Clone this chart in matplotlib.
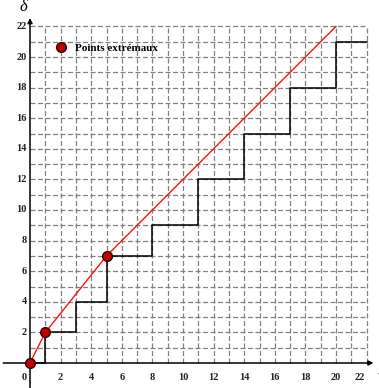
import matplotlib.pyplot as plt
from matplotlib.lines import Line2D

# Extreme points and the upper envelope through them
extreme_x = [0, 1, 5]
extreme_y = [0, 2, 7]
envelope_x = [0, 1, 5, 20]
envelope_y = [0, 2, 7, 22]

# Staircase: jump positions and the level held after each jump
stair_x = [0, 1, 3, 5, 8, 11, 14, 17, 20, 22]
stair_y = [0, 2, 4, 7, 9, 12, 15, 18, 21, 21]

ticks = [2, 4, 6, 8, 10, 12, 14, 16, 18, 20, 22]
grid_max = 22

plt.rcParams['font.family'] = ['Liberation Serif', 'DejaVu Serif']

fig = plt.figure(figsize=(3.79, 3.88), dpi=100)
ax = fig.add_axes([0, 0, 1, 1])
unit = 15.3
ax.set_xlim(-30 / unit, (379 - 30) / unit)
ax.set_ylim(-(388 - 363) / unit, 363 / unit)
ax.axis('off')

# dashed grid, one line per unit
grid_kw = dict(color='#808080', linewidth=0.9, linestyles=(0, (4, 2)), zorder=1)
ax.hlines(range(1, grid_max + 1), 0, grid_max, **grid_kw)
ax.vlines(range(1, grid_max + 1), 0, grid_max, **grid_kw)

# axes with arrows
ax.annotate('', xy=(22.45, 0), xytext=(-1.75, 0),
            arrowprops=dict(arrowstyle='-|>', color='black', lw=1.1,
                            mutation_scale=7, shrinkA=0, shrinkB=0), zorder=3)
ax.annotate('', xy=(0, 22.55), xytext=(0, -1.7),
            arrowprops=dict(arrowstyle='-|>', color='black', lw=1.1,
                            mutation_scale=7, shrinkA=0, shrinkB=0), zorder=3)

ax.step(stair_x, stair_y, where='post', color='black', linewidth=1.1, zorder=4)
ax.plot(envelope_x, envelope_y, color='#ff1010', linewidth=1.0, zorder=5)
ax.plot(extreme_x, extreme_y, linestyle='none', marker='o', markersize=7,
        markerfacecolor='#c00000', markeredgecolor='#300000',
        markeredgewidth=1.0, zorder=6)

# tick labels
lab_kw = dict(fontsize=7.5, fontweight='bold', color='#222222')
for t in ticks:
    xt = t - 0.45 if t == 22 else t
    ax.text(xt, -0.95, str(t), ha='center', va='center', **lab_kw)
    ax.text(-0.2, t, str(t), ha='right', va='center', **lab_kw)
ax.text(-0.4, -0.95, '0', ha='center', va='center', **lab_kw)

# axis names
ax.text(-0.45, 23.3, 'δ', fontsize=12, style='italic', ha='center', va='center')
ax.text(22.95, -0.9, 'γ', fontsize=12, style='italic', ha='center', va='center')

handle = Line2D([], [], linestyle='none', marker='o', markersize=7,
                markerfacecolor='#c00000', markeredgecolor='#300000')
ax.legend([handle], ['Points extrémaux'], loc='center left',
          bbox_to_anchor=(0.104, 0.876), frameon=False, handletextpad=0.3,
          prop=dict(size=8, weight='bold'))

fig.savefig('out.png', dpi=100)
